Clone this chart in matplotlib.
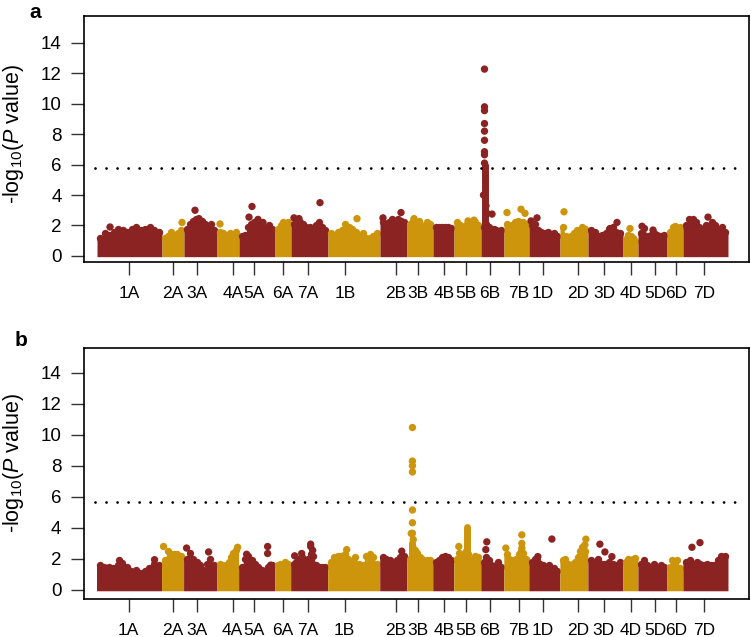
import numpy as np
import matplotlib.pyplot as plt

plt.rcParams['font.family'] = ['Liberation Sans', 'DejaVu Sans']
plt.rcParams['mathtext.fontset'] = 'custom'
plt.rcParams['mathtext.rm'] = 'Liberation Sans'
plt.rcParams['mathtext.it'] = 'Liberation Sans:italic'

# chromosomes in plotting order, x axis is marker order (marker count per chromosome, x100)
chroms = ['1A', '2A', '3A', '4A', '5A', '6A', '7A', '1B', '2B', '3B', '4B', '5B', '6B', '7B',
          '1D', '2D', '3D', '4D', '5D', '6D', '7D']
chrom_size = [65, 22, 33, 22, 36, 16, 37, 52, 27, 26, 21, 27, 23, 25, 31, 28, 35, 15, 29, 16, 45]
tick_pos = [32, 76, 100, 136, 157, 186, 211, 248, 299, 321, 347, 369, 393, 422,
            446, 481, 507, 534, 558, 579, 607]
colors = ['#8B2323', '#CD950C']

# ---- panel a: upper edge of the dense marker cloud along each chromosome ----
env_a = {
    '1A': [1.2, 1.5, 1.4, 1.6, 1.8, 1.7, 1.6, 1.8, 1.9, 1.7, 1.8, 1.9, 1.7, 1.6],
    '2A': [1.2, 1.3, 1.6, 1.4, 1.5, 1.7],
    '3A': [1.8, 2.1, 2.3, 2.4, 2.2, 2.3, 2.1, 1.8, 2.1, 1.7],
    '4A': [1.6, 1.5, 1.3, 1.5, 1.4, 1.6],
    '5A': [1.3, 1.4, 1.9, 2.1, 2.2, 2.0, 2.1, 1.9, 1.7, 2.0, 1.8],
    '6A': [1.8, 2.0, 2.2, 2.1, 2.2],
    '7A': [2.1, 2.3, 2.2, 2.1, 1.9, 1.9, 1.8, 2.0, 2.2, 1.9, 1.7],
    '1B': [1.5, 1.4, 1.6, 1.7, 2.1, 1.9, 1.8, 1.6, 1.3, 1.5, 1.2, 1.2, 1.3, 1.5],
    '2B': [2.2, 2.0, 2.2, 2.4, 2.3, 2.4, 2.3, 2.2],
    '3B': [2.1, 2.3, 2.2, 2.3, 2.0, 1.9, 2.2, 2.1],
    '4B': [1.9, 1.9, 1.9, 1.9, 1.9, 1.85],
    '5B': [2.2, 2.0, 1.8, 2.0, 2.1, 2.2, 2.2, 2.0],
    '6B': [1.9, 2.1, 1.9, 1.7, 1.8, 1.7, 1.6, 1.7],
    '7B': [2.1, 1.8, 2.0, 2.2, 2.3, 2.1, 2.2, 2.0],
    '1D': [2.0, 2.1, 1.7, 1.6, 1.5, 1.6, 1.4, 1.5, 1.3],
    '2D': [1.9, 1.3, 1.2, 1.3, 1.5, 1.7, 1.6, 1.9, 1.8],
    '3D': [1.7, 1.6, 1.3, 1.4, 1.5, 1.8, 1.9, 1.6, 1.5],
    '4D': [1.1, 1.4, 1.3, 1.2, 1.0],
    '5D': [1.5, 1.85, 1.3, 1.4, 1.5, 1.4, 1.3, 1.4],
    '6D': [1.6, 1.9, 1.95, 1.8, 1.9],
    '7D': [2.0, 2.45, 2.4, 2.2, 1.9, 1.8, 2.0, 1.9, 2.2, 2.0, 1.7, 1.9, 1.6],
}
# isolated markers: (chromosome, position within chromosome, -log10 P)
hits_a = [('1A', 13, 1.9), ('2A', 20, 2.2), ('3A', 11, 3.0), ('3A', 15, 2.45), ('4A', 3, 2.1),
          ('5A', 13, 3.25), ('5A', 10, 2.55), ('5A', 19, 2.4), ('5A', 24, 2.2),
          ('7A', 29, 3.5), ('7A', 3, 2.5), ('7A', 8, 2.45), ('1B', 29, 2.45),
          ('2B', 3, 2.5), ('2B', 21, 2.85), ('3B', 7, 2.45), ('5B', 14, 2.3), ('5B', 20, 2.35),
          ('6B', 11, 2.75), ('6B', 2.5, 4.0), ('6B', 5, 3.3), ('6B', 6, 2.8),
          ('6B', 3.5, 12.28), ('6B', 3.5, 9.8), ('6B', 3.5, 9.55), ('6B', 3.5, 8.7),
          ('6B', 3.5, 8.2), ('6B', 3.5, 7.6), ('6B', 3.5, 6.85), ('6B', 3.5, 6.65), ('6B', 3.5, 6.1),
          ('7B', 3, 2.85), ('7B', 17, 3.07), ('7B', 21, 2.8), ('1D', 2, 2.3), ('1D', 8, 2.5),
          ('2D', 4, 2.9), ('3D', 29, 2.2), ('3D', 22, 1.8), ('4D', 7, 1.8),
          ('5D', 4, 1.95), ('5D', 15, 1.7), ('7D', 25, 2.55)]
# dense columns of markers: (chromosome, position, column top)
cols_a = [('6B', 3.5, 5.95)]
thr_a = 5.8

# ---- panel b ----
env_b = {
    '1A': [1.6, 1.5, 1.5, 1.4, 1.6, 1.75, 1.5, 1.2, 1.3, 1.1, 1.2, 1.4, 1.7, 1.6],
    '2A': [1.9, 2.5, 2.3, 2.3, 2.3, 2.2],
    '3A': [2.0, 2.4, 2.0, 1.8, 1.6, 1.3, 1.7, 2.0, 1.6],
    '4A': [1.7, 1.6, 1.5, 1.6, 1.8, 2.1, 2.4, 2.6],
    '5A': [1.5, 2.0, 2.2, 1.9, 1.7, 1.5, 1.3, 1.2, 1.5, 1.6],
    '6A': [1.6, 1.7, 1.6, 1.8, 1.7],
    '7A': [1.7, 1.8, 2.0, 2.1, 1.9, 2.0, 2.3, 2.2, 1.6, 1.5, 1.5, 1.5],
    '1B': [1.8, 2.1, 2.2, 2.2, 2.3, 2.0, 1.8, 2.1, 1.7, 1.6, 2.2, 2.3, 2.1, 1.7],
    '2B': [2.1, 2.0, 1.9, 1.8, 1.9, 2.1, 2.2],
    '3B': [2.0, 2.3, 2.6, 2.4, 2.1, 2.0, 1.8, 1.9, 1.9],
    '4B': [1.8, 1.9, 2.1, 2.2, 2.1, 1.9],
    '5B': [2.0, 2.4, 2.3, 2.0, 2.5, 2.3, 1.9, 2.0, 2.2, 2.1],
    '6B': [1.8, 2.1, 1.9, 1.6, 1.5, 1.6, 1.8, 1.5],
    '7B': [2.3, 2.0, 1.9, 1.9, 2.0, 2.3, 2.5, 2.4, 2.0],
    '1D': [1.8, 2.0, 1.9, 1.7, 1.6, 1.5, 1.6, 1.3, 1.4, 1.2],
    '2D': [1.9, 2.0, 1.7, 1.6, 1.7, 1.8, 2.1, 2.5, 2.8, 2.5],
    '3D': [1.9, 1.8, 2.0, 1.7, 1.7, 1.8, 1.7, 1.6, 1.8],
    '4D': [1.8, 2.0, 1.9, 2.0, 2.05],
    '5D': [1.7, 1.95, 1.6, 1.5, 1.7, 1.5, 1.6, 1.5],
    '6D': [1.5, 1.95, 1.6, 1.95, 1.4],
    '7D': [1.8, 1.95, 1.7, 1.8, 1.7, 1.6, 1.7, 1.6, 1.6, 1.9, 2.2, 2.2],
}
hits_b = [('1A', 23, 1.9), ('1A', 58, 1.95), ('2A', 2, 2.8), ('3A', 3, 2.7), ('3A', 25, 2.45),
          ('4A', 21, 2.75), ('5A', 8, 2.3), ('5A', 29, 2.8), ('5A', 29, 2.35), ('5A', 32, 1.6),
          ('7A', 4, 2.2), ('7A', 11, 2.35), ('7A', 20, 2.95), ('7A', 20, 2.8), ('7A', 22, 2.55),
          ('1B', 19, 2.6), ('2B', 22, 2.5),
          ('3B', 5.7, 10.46), ('3B', 5.7, 8.3), ('3B', 5.7, 8.0), ('3B', 5.7, 7.6),
          ('3B', 5.7, 5.15), ('3B', 5.7, 4.33), ('3B', 5.7, 3.65), ('3B', 4.5, 3.64),
          ('3B', 6.5, 3.25), ('3B', 6, 2.8),
          ('5B', 5, 2.8), ('6B', 6, 3.1), ('6B', 5, 2.6),
          ('7B', 2, 2.7), ('7B', 18, 3.55), ('7B', 18, 3.0), ('7B', 18, 2.7),
          ('1D', 9, 2.15), ('1D', 23, 3.28), ('2D', 26, 3.27), ('2D', 25, 2.9),
          ('3D', 12, 2.95), ('3D', 17, 2.45), ('3D', 24, 2.15),
          ('7D', 9, 2.75), ('7D', 17, 3.05)]
cols_b = [('3B', 5.7, 3.0), ('5B', 13.5, 4.05)]
thr_b = 5.68


def chrom_starts():
    return dict(zip(chroms, np.concatenate([[0], np.cumsum(chrom_size)[:-1]])))


def draw_panel(ax, env, hits, cols, thr, ylim):
    starts = chrom_starts()
    col_of = {c: colors[i % 2] for i, c in enumerate(chroms)}
    for i, c in enumerate(chroms):
        x0, w = starts[c], chrom_size[i]
        h = np.array(env[c])
        xs = np.linspace(x0 + 3, x0 + w - 3, len(h))
        ax.fill_between(np.r_[x0, xs, x0 + w], -0.05, np.r_[h[0], h, h[-1]],
                        color=col_of[c], lw=0, zorder=2)
        ax.scatter(xs, h, s=28, color=col_of[c], lw=0, zorder=2)
    for c, pos, top in cols:
        ax.plot([starts[c] + pos] * 2, [1.5, top], color=col_of[c], lw=5,
                solid_capstyle='round', zorder=3)
    hx = [starts[c] + p for c, p, v in hits]
    hy = [v for c, p, v in hits]
    ax.scatter(hx, hy, s=28, color=[col_of[c] for c, p, v in hits], lw=0, zorder=3)

    ax.plot([-2, 646], [thr, thr], color='black', lw=2.0,
            linestyle=(0, (0.01, 3.96)), dash_capstyle='round', zorder=4)

    ax.set_xlim(-13, 652)
    ax.set_ylim(*ylim)
    ax.set_yticks(np.arange(0, 15, 2))
    ax.set_xticks(tick_pos, chroms)
    ax.tick_params(axis='both', length=9.5, width=1.0, color='#333333')
    ax.tick_params(axis='x', labelsize=12.5, pad=8)
    ax.tick_params(axis='y', labelsize=13.5, pad=6.5)
    for s in ax.spines.values():
        s.set_linewidth(1.2)
    ax.set_ylabel(r'-log$_{\mathregular{10}}$($\it{P}$ value)', fontsize=15.5)


fig = plt.figure(figsize=(7.51, 6.37), dpi=100)
ax_a = fig.add_axes([84 / 751, 1 - 262 / 637, 665 / 751, 246 / 637])
ax_b = fig.add_axes([83.5 / 751, 1 - 599 / 637, 665.5 / 751, 251 / 637])

draw_panel(ax_a, env_a, hits_a, cols_a, thr_a, (-0.4, 15.77))
draw_panel(ax_b, env_b, hits_b, cols_b, thr_b, (-0.58, 15.58))
ax_a.yaxis.set_label_coords(-0.087, 0.52)
ax_b.yaxis.set_label_coords(-0.087, 0.54)

fig.text(29 / 751, 1 - 18 / 637, 'a', fontsize=15, fontweight='bold', ha='left', va='baseline')
fig.text(15 / 751, 1 - 346.5 / 637, 'b', fontsize=15, fontweight='bold', ha='left', va='baseline')

fig.savefig('out.png', dpi=100)
